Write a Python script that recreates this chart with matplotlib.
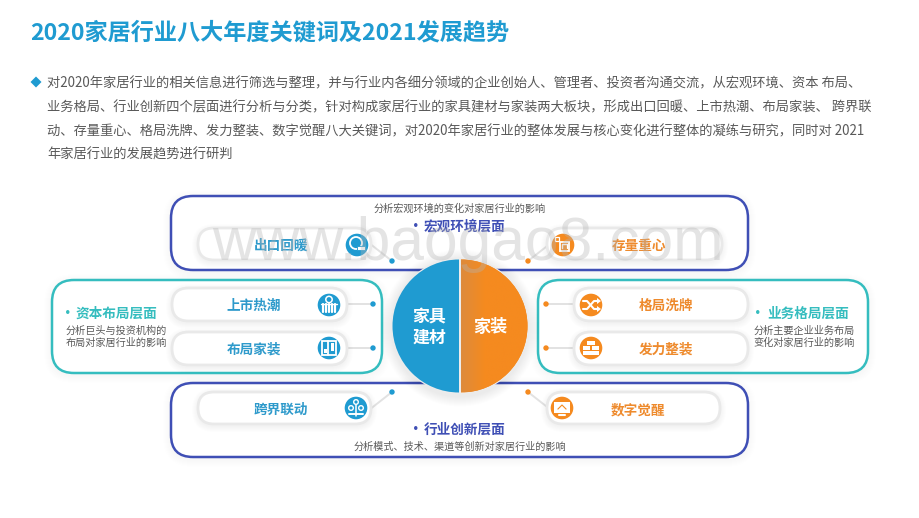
import matplotlib
matplotlib.use("Agg")
import matplotlib.pyplot as plt
from matplotlib.patches import FancyBboxPatch, Circle, Wedge, Polygon, Rectangle
from matplotlib.colors import LinearSegmentedColormap
import numpy as np

plt.rcParams['font.family'] = ['Noto Sans CJK SC', 'DejaVu Sans']

title = "2020家居行业八大年度关键词及2021发展趋势"
body_lines = [
    "对2020年家居行业的相关信息进行筛选与整理，并与行业内各细分领域的企业创始人、管理者、投资者沟通交流，从宏观环境、资本 布局、",
    "业务格局、行业创新四个层面进行分析与分类，针对构成家居行业的家具建材与家装两大板块，形成出口回暖、上市热潮、布局家装、 跨界联",
    "动、存量重心、格局洗牌、发力整装、数字觉醒八大关键词，对2020年家居行业的整体发展与核心变化进行整体的凝练与研究，同时对 2021",
    "年家居行业的发展趋势进行研判",
]
center_left = "家具\n建材"
center_right = "家装"
blue_pills = ["出口回暖", "上市热潮", "布局家装", "跨界联动"]
orange_pills = ["存量重心", "格局洗牌", "发力整装", "数字觉醒"]
watermark = "www.baogao8.com"

BLUE, ORANGE, TEAL, NAVY = "#1F9BD1", "#F58A1F", "#35BDBF", "#3F4FB5"
GREY = "#595959"

fig = plt.figure(figsize=(9.2, 5.18), dpi=100)
ax = fig.add_axes([0, 0, 1, 1])
ax.set_xlim(0, 920)
ax.set_ylim(518, 0)
ax.axis("off")


def rbox(x0, y0, x1, y1, r, **kw):
    p = FancyBboxPatch((x0 + r, y0 + r), x1 - x0 - 2 * r, y1 - y0 - 2 * r,
                       boxstyle=f"round,pad={r},rounding_size={r}", **kw)
    ax.add_patch(p)
    return p


def shadow_box(x0, y0, x1, y1, r, z, spread=9, peak=0.012, dy=2):
    for i in range(spread, 0, -1):
        rbox(x0 - i, y0 - i + dy, x1 + i, y1 + i + dy, r + i, fc="#000000",
             ec="none", alpha=peak, zorder=z)


def frame(x0, y0, x1, y1, color):
    shadow_box(x0, y0, x1, y1, 22, 1, spread=8, peak=0.004)
    rbox(x0, y0, x1, y1, 22, fc="white", ec=color, lw=1.8, zorder=2)


def pill(x0, y0, x1, y1):
    shadow_box(x0, y0, x1, y1, (y1 - y0) / 2, 3, spread=6, peak=0.008)
    rbox(x0, y0, x1, y1, (y1 - y0) / 2, fc="white", ec="#E9E9E9", lw=2.0, zorder=4)


def connector(pts, color):
    xs, ys = zip(*pts)
    ax.plot(xs, ys, color="#E2E2E2", lw=1.4, zorder=3, solid_capstyle="round")
    ax.add_patch(Circle(pts[-1], 2.7, fc=color, ec="none", zorder=5))


def icon(cx, cy, color, kind):
    ax.add_patch(Circle((cx, cy), 11.3, fc=color, ec="none", zorder=6))
    w = dict(color="white", zorder=7, solid_capstyle="round")
    if kind == "globe":
        ax.add_patch(Circle((cx - 1, cy - 2), 6, fc="none", ec="white", lw=1.3, zorder=7))
        ax.add_patch(Rectangle((cx, cy + 1), 8, 4, fc="white", ec=color, lw=0.6, zorder=7))
    elif kind == "bars":
        ax.add_patch(Circle((cx, cy - 5.5), 3.2, fc="none", ec="white", lw=1.1, zorder=7))
        for dx in (-6, -3, 0, 3, 6):
            ax.plot([cx + dx] * 2, [cy - 1, cy + 7], lw=1.6, **w)
        ax.plot([cx - 8, cx + 8], [cy - 1, cy - 1], lw=1, **w)
    elif kind == "plan":
        ax.add_patch(Rectangle((cx - 7, cy - 7), 14, 14, fc="none", ec="white", lw=1.3, zorder=7))
        ax.plot([cx - 1, cx - 1], [cy - 7, cy + 7], lw=1.3, **w)
        ax.add_patch(Rectangle((cx - 5, cy + 1), 3.5, 4, fc="white", ec="none", zorder=7))
        ax.add_patch(Rectangle((cx + 2, cy - 5), 3.5, 8, fc="white", ec="none", zorder=7))
    elif kind == "tree":
        for dx, dy in ((0, -6), (-5, 0), (5, 0)):
            ax.add_patch(Circle((cx + dx, cy + dy), 2.3, fc="none", ec="white", lw=1, zorder=7))
        ax.plot([cx - 7, cx + 7], [cy + 6, cy + 6], lw=1.4, **w)
        ax.plot([cx, cx], [cy - 3, cy + 8], lw=1.1, **w)
    elif kind == "box":
        ax.add_patch(Rectangle((cx - 3, cy - 3), 9, 9, fc="none", ec="white", lw=1.3, zorder=7))
        ax.plot([cx - 1, cx - 1, cx + 4, cx + 4], [cy + 3, cy - 1, cy - 1, cy + 3], lw=1, **w)
        ax.add_patch(Rectangle((cx - 8, cy - 8), 4, 4, fc="none", ec="white", lw=0.9, zorder=7))
    elif kind == "shuffle":
        ax.plot([cx - 8, cx - 4, cx + 3, cx + 7], [cy - 4, cy - 4, cy + 4, cy + 4], lw=1.5, **w)
        ax.plot([cx - 8, cx - 4, cx + 3, cx + 7], [cy + 4, cy + 4, cy - 4, cy - 4], lw=1.5, **w)
        for s in (-4, 4):
            ax.add_patch(Polygon([(cx + 6, cy + s - 3), (cx + 10, cy + s), (cx + 6, cy + s + 3)],
                                 fc="white", ec="none", zorder=7))
    elif kind == "bricks":
        for x0, y0, bw in ((-4, -7, 8), (-8, -2, 7), (1, -2, 7), (-8, 3, 16)):
            ax.add_patch(Rectangle((cx + x0, cy + y0), bw, 4, fc="white", ec="none", zorder=7))
    elif kind == "screen":
        ax.add_patch(Rectangle((cx - 8, cy - 6), 16, 10.5, fc="white", ec="none", zorder=7))
        ax.plot([cx - 3, cx + 3], [cy + 7, cy + 7], lw=1.5, **w)
        ax.plot([cx - 4, cx, cx + 4], [cy + 1, cy - 3, cy + 1], color=color, lw=0.8, zorder=8)


def heading(x_dot, x_text, y, txt, color):
    ax.text(x_dot, y, "·", fontsize=9.8, fontweight="bold", color=color, ha="center", va="center", zorder=8)
    ax.text(x_text, y, txt, fontsize=9.8, fontweight="bold", color=color, ha="left", va="center", zorder=8)


# title + paragraph
ax.text(30, 33, title, fontsize=16.7, fontweight="bold", color=BLUE, va="center", ha="left")
ax.add_patch(Polygon([(30.5, 82), (36, 76.5), (41.5, 82), (36, 87.5)], fc=BLUE, ec="none"))
for txt, y in zip(body_lines, (83, 107, 131, 155)):
    ax.text(47, y, txt, fontsize=9.55, color=GREY, va="center", ha="left")

# frames
frame(171, 196, 748, 270, NAVY)
frame(171, 383, 748, 457, NAVY)
frame(52, 280, 382, 373, TEAL)
frame(538, 280, 868, 373, TEAL)

# connectors
connector([(369, 243), (392, 261)], BLUE)
connector([(551, 243), (528, 261)], ORANGE)
connector([(369, 410), (392, 392)], BLUE)
connector([(551, 410), (528, 392)], ORANGE)
connector([(335, 304), (373, 304)], BLUE)
connector([(335, 348), (373, 348)], BLUE)
connector([(585, 304), (546, 304)], ORANGE)
connector([(585, 348), (546, 348)], ORANGE)

# pills
pill_boxes_blue = [(198, 228, 371, 260), (172, 288, 347, 321), (172, 332, 347, 365), (198, 392, 371, 424)]
pill_boxes_orange = [(547, 228, 722, 260), (574, 288, 748, 321), (574, 332, 748, 365), (547, 392, 720, 424)]
for b in pill_boxes_blue + pill_boxes_orange:
    pill(*b)

for txt, pos in zip(blue_pills, [(281, 246), (254, 306), (254, 350), (281, 410)]):
    ax.text(*pos, txt, fontsize=9.8, fontweight="bold", color="#2E9ACB", ha="center", va="center", zorder=8)
for txt, pos in zip(orange_pills, [(639, 246), (666, 306), (666, 350), (638, 410)]):
    ax.text(*pos, txt, fontsize=9.8, fontweight="bold", color="#EE8A2C", ha="center", va="center", zorder=8)

icon(357, 245, BLUE, "globe")
icon(329, 305, BLUE, "bars")
icon(329, 348, BLUE, "plan")
icon(356, 408, BLUE, "tree")
icon(563, 245, ORANGE, "box")
icon(591, 305, ORANGE, "shuffle")
icon(591, 348, ORANGE, "bricks")
icon(562, 408, ORANGE, "screen")

# section labels
ax.text(460, 209, "分析宏观环境的变化对家居行业的影响", fontsize=7.3, color=GREY, ha="center", va="center", zorder=8)
heading(416, 424, 227, "宏观环境层面", NAVY)
heading(416, 424, 430, "行业创新层面", NAVY)
ax.text(460, 447, "分析模式、技术、渠道等创新对家居行业的影响", fontsize=7.3, color=GREY, ha="center", va="center", zorder=8)

heading(68, 76, 314, "资本布局层面", TEAL)
ax.text(116, 331, "分析巨头与投资机构的", fontsize=7.3, color=GREY, ha="center", va="center", zorder=8)
ax.text(116, 343, "布局对家居行业的影响", fontsize=7.3, color=GREY, ha="center", va="center", zorder=8)
heading(758, 767, 314, "业务格局层面", TEAL)
ax.text(804, 331, "分析主要企业业务布局", fontsize=7.3, color=GREY, ha="center", va="center", zorder=8)
ax.text(804, 343, "变化对家居行业的影响", fontsize=7.3, color=GREY, ha="center", va="center", zorder=8)

# centre disc
cx, cy, R = 460, 326, 66.5
for i in range(10, 0, -1):
    ax.add_patch(Circle((cx, cy + 2), R + 2 + i, fc="black", ec="none", alpha=0.006, zorder=9))
ax.add_patch(Circle((cx, cy), R + 1.8, fc="#ECECEC", ec="none", zorder=9))
ax.add_patch(Wedge((cx - 1, cy), R, 90, 270, fc=BLUE, ec="none", zorder=10))
right = Wedge((cx + 1, cy), R, 270, 90, fc=ORANGE, ec="none", zorder=10)
ax.add_patch(right)
grad = LinearSegmentedColormap.from_list("edge", ["#DE8B3C", ORANGE])
im = ax.imshow(np.linspace(0, 1, 64).reshape(1, -1), cmap=grad, extent=(cx + 1, cx + R + 1, cy + R, cy - R),
               aspect="auto", zorder=10.5, interpolation="bilinear")
im.set_clip_path(right)
im.set_norm(matplotlib.colors.Normalize(0, 0.35))
ax.set_xlim(0, 920)
ax.set_ylim(518, 0)
ax.text(429, 328, center_left, fontsize=12.2, fontweight="bold", color="white", ha="center", va="center",
        linespacing=1.15, zorder=11)
ax.text(490, 327, center_right, fontsize=12.3, fontweight="bold", color="white", ha="center", va="center", zorder=11)

# watermark
ax.text(468, 260, watermark, fontsize=43.6, family="Liberation Sans", color="#B5B5B5", alpha=0.36,
        ha="center", va="baseline", zorder=12)

fig.savefig("out.png", dpi=100, facecolor="white")
